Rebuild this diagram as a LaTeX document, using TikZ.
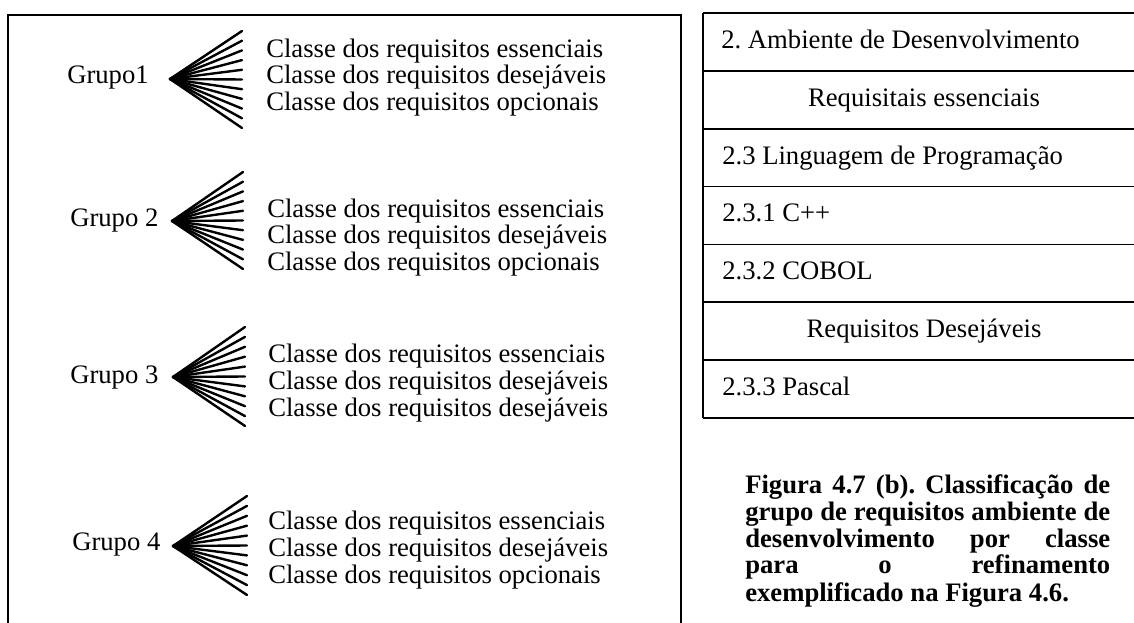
\documentclass[tikz,border=0pt]{standalone}
\usepackage{fontspec}
\setmainfont{Liberation Serif}
\frenchspacing
% one fan of eleven rays: name, apex x, apex y, end x, top end y, bottom end y
\newcommand{\drawfan}[6]{%
  \coordinate (#1) at (#2,#3);
  \foreach \k in {0,...,10}{\draw[ray] (#1) -- ({#4},{#5+(#6-#5)*\k/10});}%
}
\begin{document}
\begin{tikzpicture}[x=0.75pt,y=-0.75pt,
  frame/.style={draw=black, line width=1.2pt},
  ray/.style={line width=1.8pt, line cap=round},
  txt/.style={anchor=base west, inner sep=0pt, font=\fontsize{20}{24}\selectfont},
  ctxt/.style={anchor=base, inner sep=0pt, font=\fontsize{20}{24}\selectfont},
  captxt/.style={anchor=base west, inner sep=0pt, font=\fontsize{20}{24}\selectfont\bfseries}]
\useasboundingbox (0,0) rectangle (1134,623);
\clip (0,0) rectangle (1134,623);
\fill[white] (0,0) rectangle (1134,623);

% left panel: groups and their classes
\draw[frame] (8,650) -- (8,15) -- (681,15) -- (681,650);

\node[txt] (g1) at (67,84) {Grupo1};
\drawfan{f1}{170}{79}{242}{31}{128}
\node[txt] (g1a) at (266,58) {Classe dos requisitos essenciais};
\node[txt] (g1b) at (266,84) {Classe dos requisitos desejáveis};
\node[txt] (g1c) at (266,111) {Classe dos requisitos opcionais};

\node[txt] (g2) at (70,227) {Grupo 2};
\drawfan{f2}{172}{221}{243}{172}{269}
\node[txt] (g2a) at (267,218) {Classe dos requisitos essenciais};
\node[txt] (g2b) at (267,244) {Classe dos requisitos desejáveis};
\node[txt] (g2c) at (267,271) {Classe dos requisitos opcionais};

\node[txt] (g3) at (70,383) {Grupo 3};
\drawfan{f3}{173}{377}{245}{327}{426}
\node[txt] (g3a) at (268,363) {Classe dos requisitos essenciais};
\node[txt] (g3b) at (268,389) {Classe dos requisitos desejáveis};
\node[txt] (g3c) at (268,416) {Classe dos requisitos desejáveis};

\node[txt] (g4) at (72,550) {Grupo 4};
\drawfan{f4}{173}{546}{247}{496}{595}
\node[txt] (g4a) at (268,529) {Classe dos requisitos essenciais};
\node[txt] (g4b) at (268,556) {Classe dos requisitos desejáveis};
\node[txt] (g4c) at (268,583) {Classe dos requisitos opcionais};

% right panel: refinement table
\foreach \r in {0,...,7}{\draw[frame] (703,{13+57.86*\r}) -- (1150,{13+57.86*\r});}
\draw[frame] (703,13) -- (703,418);
\node[txt]  (t1) at (721,48.4)  {2. Ambiente de Desenvolvimento};
\node[ctxt] (t2) at (924,106.3) {Requisitais essenciais};
\node[txt]  (t3) at (722,164.1) {2.3 Linguagem de Programação};
\node[txt]  (t4) at (722,221.9) {2.3.1 C++};
\node[txt]  (t5) at (722,279.8) {2.3.2 COBOL};
\node[ctxt] (t6) at (924,337.7) {Requisitos Desejáveis};
\node[txt]  (t7) at (722,395.5) {2.3.3 Pascal};

% caption, justified line by line
\node[captxt] (c1) at (745,493) {\makebox[273.75pt][s]{Figura 4.7 (b). Classificação de}};
\node[captxt] (c2) at (745,520) {\makebox[273.75pt][s]{grupo de requisitos ambiente de}};
\node[captxt] (c3) at (745,547) {\makebox[273.75pt][s]{desenvolvimento por classe}};
\node[captxt] (c4) at (745,573) {\makebox[273.75pt][s]{para o refinamento}};
\node[captxt] (c5) at (745,601) {exemplificado na Figura 4.6.};
\end{tikzpicture}
\end{document}
